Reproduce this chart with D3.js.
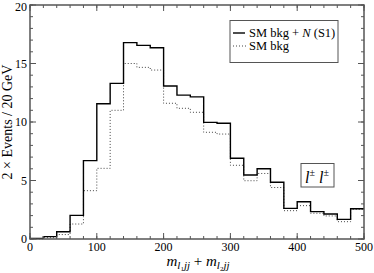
<!DOCTYPE html>
<html>
<head>
<meta charset="utf-8">
<script src="https://cdn.jsdelivr.net/npm/d3@7"></script>
<style>
  body { margin: 0; background: #fff; }
  text { font-family: "Liberation Serif", "DejaVu Serif", serif; fill: #000; }
</style>
</head>
<body>
<svg id="chart"></svg>
<script>
// bin lower edges (GeV), each bin is 20 wide
var binStarts = [0, 20, 40, 60, 80, 100, 120, 140, 160, 180, 200, 220, 240,
                 260, 280, 300, 320, 340, 360, 380, 400, 420, 440, 460, 480];
var binWidth = 20;

// SM bkg + N (S1)
var sigBkg = [0.05, 0.2, 0.62, 2.02, 6.7, 11.56, 13.3, 16.78, 16.55, 16.35, 13.08, 12.3, 12.15,
              9.97, 9.89, 6.9, 5.47, 6.0, 4.85, 2.62, 3.19, 2.34, 2.14, 1.68, 2.59];
// SM bkg only
var bkgOnly = [0.02, 0.11, 0.38, 1.28, 4.13, 6.04, 11.0, 15.0, 14.67, 14.44, 11.6, 11.17, 10.83,
               9.12, 8.97, 6.3, 4.98, 5.6, 4.4, 2.42, 2.85, 2.2, 1.97, 1.48, 2.53];

var xTicks = [0, 100, 200, 300, 400, 500];
var yTicks = [0, 5, 10, 15, 20];

var dims = { width: 374, height: 273, margins: { top: 5, right: 10, bottom: 34, left: 30 } };
var w = dims.width - dims.margins.left - dims.margins.right;
var h = dims.height - dims.margins.top - dims.margins.bottom;

var svg = d3.select("#chart")
    .attr("width", dims.width)
    .attr("height", dims.height);
var g = svg.append("g")
    .attr("transform", `translate(${dims.margins.left},${dims.margins.top})`);

var x = d3.scaleLinear().domain([0, 500]).range([0, w]);
var y = d3.scaleLinear().domain([0, 20]).range([h, 0]);

var frameColor = "#555";

// histogram step lines
function stepPoints(vals) {
  var pts = binStarts.map((b, i) => [b, vals[i]]);
  pts.push([binStarts[binStarts.length - 1] + binWidth, vals[vals.length - 1]]);
  return pts;
}
var line = d3.line()
    .x(d => x(d[0]))
    .y(d => y(d[1]))
    .curve(d3.curveStepAfter);

g.append("path")
  .attr("d", line(stepPoints(bkgOnly)))
  .attr("fill", "none")
  .attr("stroke", "#444")
  .attr("stroke-width", 1)
  .attr("stroke-dasharray", "1,2");

g.append("path")
  .attr("d", line(stepPoints(sigBkg)))
  .attr("fill", "none")
  .attr("stroke", "#000")
  .attr("stroke-width", 1.4);

// axes: ticks inside, on all four sides
var minorX = d3.range(0, 501, 20);
var minorY = d3.range(0, 21, 1);

function drawTicks(sel, vals, isX, len, side) {
  vals.forEach(v => {
    if (isX) {
      var px = x(v);
      if (side === "bottom") sel.append("line").attr("x1", px).attr("x2", px).attr("y1", h).attr("y2", h - len);
      else sel.append("line").attr("x1", px).attr("x2", px).attr("y1", 0).attr("y2", len);
    } else {
      var py = y(v);
      if (side === "left") sel.append("line").attr("x1", 0).attr("x2", len).attr("y1", py).attr("y2", py);
      else sel.append("line").attr("x1", w).attr("x2", w - len).attr("y1", py).attr("y2", py);
    }
  });
}
var ticksG = g.append("g").attr("stroke", frameColor).attr("stroke-width", 1);
drawTicks(ticksG, minorX, true, 3, "bottom");
drawTicks(ticksG, minorX, true, 3, "top");
drawTicks(ticksG, xTicks, true, 6, "bottom");
drawTicks(ticksG, xTicks, true, 6, "top");
drawTicks(ticksG, minorY, false, 3, "left");
drawTicks(ticksG, minorY, false, 3, "right");
drawTicks(ticksG, yTicks, false, 6, "left");
drawTicks(ticksG, yTicks, false, 6, "right");

// frame
g.append("rect")
  .attr("width", w).attr("height", h)
  .attr("fill", "none")
  .attr("stroke", frameColor)
  .attr("stroke-width", 1.5);

// tick labels
g.selectAll(".xlab").data(xTicks).enter().append("text")
  .attr("x", d => x(d))
  .attr("y", h + 12)
  .attr("text-anchor", "middle")
  .style("font-size", "12px")
  .text(d => d);

g.selectAll(".ylab").data(yTicks).enter().append("text")
  .attr("x", -3)
  .attr("y", d => Math.max(y(d) + 4, 6))
  .attr("text-anchor", "end")
  .style("font-size", "12px")
  .text(d => d);

// axis titles
g.append("text")
  .attr("transform", "rotate(-90)")
  .attr("x", -h / 2)
  .attr("y", -18)
  .attr("text-anchor", "middle")
  .style("font-size", "14px")
  .text("2 × Events / 20 GeV");

var xt = g.append("text")
  .attr("x", w / 2 + 1)
  .attr("y", h + 27)
  .attr("text-anchor", "middle")
  .style("font-size", "15px");
xt.append("tspan").attr("font-style", "italic").text("m");
xt.append("tspan").attr("font-style", "italic").attr("font-size", "11px").attr("dy", 3).text("l");
xt.append("tspan").attr("font-size", "7px").attr("dy", 2).text("1");
xt.append("tspan").attr("font-style", "italic").attr("font-size", "11px").attr("dy", -2).text("jj");
xt.append("tspan").attr("dy", -3).text(" + ");
xt.append("tspan").attr("font-style", "italic").text("m");
xt.append("tspan").attr("font-style", "italic").attr("font-size", "11px").attr("dy", 3).text("l");
xt.append("tspan").attr("font-size", "7px").attr("dy", 2).text("2");
xt.append("tspan").attr("font-style", "italic").attr("font-size", "11px").attr("dy", -2).text("jj");

// legend
var lg = svg.append("g");
lg.append("rect")
  .attr("x", 230).attr("y", 20.5).attr("width", 108).attr("height", 42)
  .attr("fill", "#fff").attr("stroke", frameColor).attr("stroke-width", 1);
lg.append("line").attr("x1", 233).attr("x2", 245).attr("y1", 33).attr("y2", 33)
  .attr("stroke", "#000").attr("stroke-width", 1.4);
lg.append("line").attr("x1", 233).attr("x2", 246).attr("y1", 46).attr("y2", 46)
  .attr("stroke", "#444").attr("stroke-width", 1).attr("stroke-dasharray", "1,2");
var t1 = lg.append("text").attr("x", 249).attr("y", 37).style("font-size", "12.5px");
t1.append("tspan").text("SM bkg + ");
t1.append("tspan").attr("font-style", "italic").text("N");
t1.append("tspan").text(" (S1)");
lg.append("text").attr("x", 249).attr("y", 50).style("font-size", "12.5px").text("SM bkg");

// channel label box
svg.append("rect")
  .attr("x", 301).attr("y", 163.5).attr("width", 33).attr("height", 23.5)
  .attr("fill", "#fff").attr("stroke", frameColor).attr("stroke-width", 1);
var ch = svg.append("text").attr("x", 317).attr("y", 183).attr("text-anchor", "middle")
  .style("font-size", "16px");
ch.append("tspan").attr("font-style", "italic").text("l");
ch.append("tspan").attr("font-size", "10px").attr("dy", -7).text("±");
ch.append("tspan").attr("font-style", "italic").attr("dy", 7).text(" l");
ch.append("tspan").attr("font-size", "10px").attr("dy", -7).text("±");
</script>
</body>
</html>
